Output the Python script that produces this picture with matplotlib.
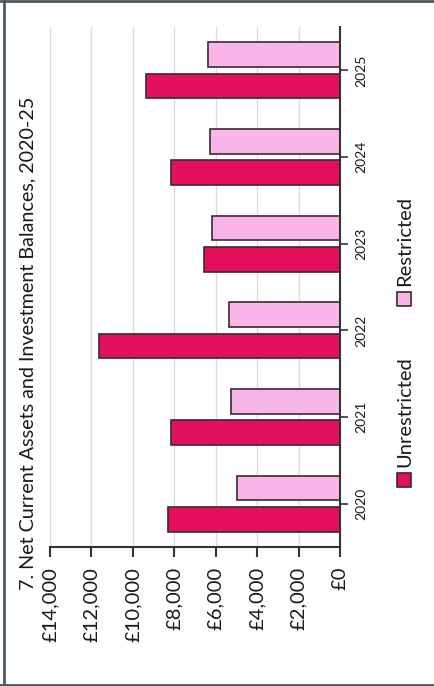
import matplotlib
matplotlib.use("Agg")
import matplotlib.pyplot as plt
from matplotlib.patches import Rectangle
from matplotlib.lines import Line2D
import numpy as np

plt.rcParams['font.family'] = ['Lato', 'DejaVu Sans']

years = ['2020', '2021', '2022', '2023', '2024', '2025']
unrestricted = [8290, 8180, 11640, 6570, 8180, 9380]
restricted = [4990, 5260, 5340, 6200, 6280, 6360]
value_ticks = [0, 2000, 4000, 6000, 8000, 10000, 12000, 14000]
value_labels = ['£0', '£2,000', '£4,000', '£6,000', '£8,000', '£10,000', '£12,000', '£14,000']
series_names = ['Unrestricted', 'Restricted']
title = '7. Net Current Assets and Investment Balances, 2020-25'

c_unres = '#E3115B'
c_res = '#F9B5E8'
edge = '#3a2a30'
axcol = '#333333'
txt = '#1a1a1a'

W, H = 435, 686
fig = plt.figure(figsize=(W / 100, H / 100), dpi=100)
fig.patch.set_facecolor('white')

# axes placed in pixel terms (chart drawn rotated 90°)
left, right, top, bottom = 50, 340, 27, 547
ax = fig.add_axes([left / W, 1 - bottom / H, (right - left) / W, (bottom - top) / H])

y = np.arange(len(years))
bh = 0.285
off = 0.18
ax.barh(y - off, unrestricted, height=bh, color=c_unres, edgecolor=edge, linewidth=1.2, zorder=3)
ax.barh(y + off, restricted, height=bh, color=c_res, edgecolor=edge, linewidth=1.2, zorder=3)

ax.set_xlim(14000, 0)
ax.set_ylim(-0.5, len(years) - 0.5)

ax.set_xticks(value_ticks)
ax.set_xticklabels(value_labels, rotation=90, fontsize=14.5, color=txt)
ax.tick_params(axis='x', direction='out', length=7.2, width=1.5, color=axcol, pad=7)

ax.yaxis.tick_right()
ax.set_yticks(y)
ax.set_yticklabels(years, rotation=90, fontsize=10, color=txt, va='center')
ax.tick_params(axis='y', direction='out', length=5.8, width=1.2, color=axcol, pad=5)

ax.grid(axis='x', color='#dcdcdc', linewidth=1.0, zorder=0)
ax.set_axisbelow(True)

for s in ['top', 'left']:
    ax.spines[s].set_visible(False)
for s in ['right', 'bottom']:
    ax.spines[s].set_color(axcol)
    ax.spines[s].set_linewidth(1.5)
    ax.spines[s].set_zorder(4)

# title (rotated)
fig.text(28 / W, 1 - 343 / H, title, rotation=90, ha='center', va='center',
         fontsize=14.2, color=txt)

# legend (rotated, manual)
sq = 14
items = [(series_names[0], c_unres, 487), (series_names[1], c_res, 306)]
for name, col, ybot in items:
    fig.patches.append(Rectangle((397 / W, 1 - ybot / H), sq / W, sq / H,
                                 transform=fig.transFigure, facecolor=col,
                                 edgecolor=edge, linewidth=1.2))
    fig.text(405 / W, 1 - (ybot - sq - 6) / H, name, rotation=90, ha='center', va='bottom',
             fontsize=14.5, color=txt)

# frame border
bc = '#4d5a5e'
fig.add_artist(Line2D([4.5 / W, 4.5 / W], [0, 1], transform=fig.transFigure, color=bc, linewidth=2))
fig.add_artist(Line2D([0, 1], [1 - 1 / H, 1 - 1 / H], transform=fig.transFigure, color=bc, linewidth=2))
fig.add_artist(Line2D([0, 1], [1 - 684.5 / H, 1 - 684.5 / H], transform=fig.transFigure, color=bc, linewidth=2))

fig.savefig('out.png', dpi=100, facecolor='white')
